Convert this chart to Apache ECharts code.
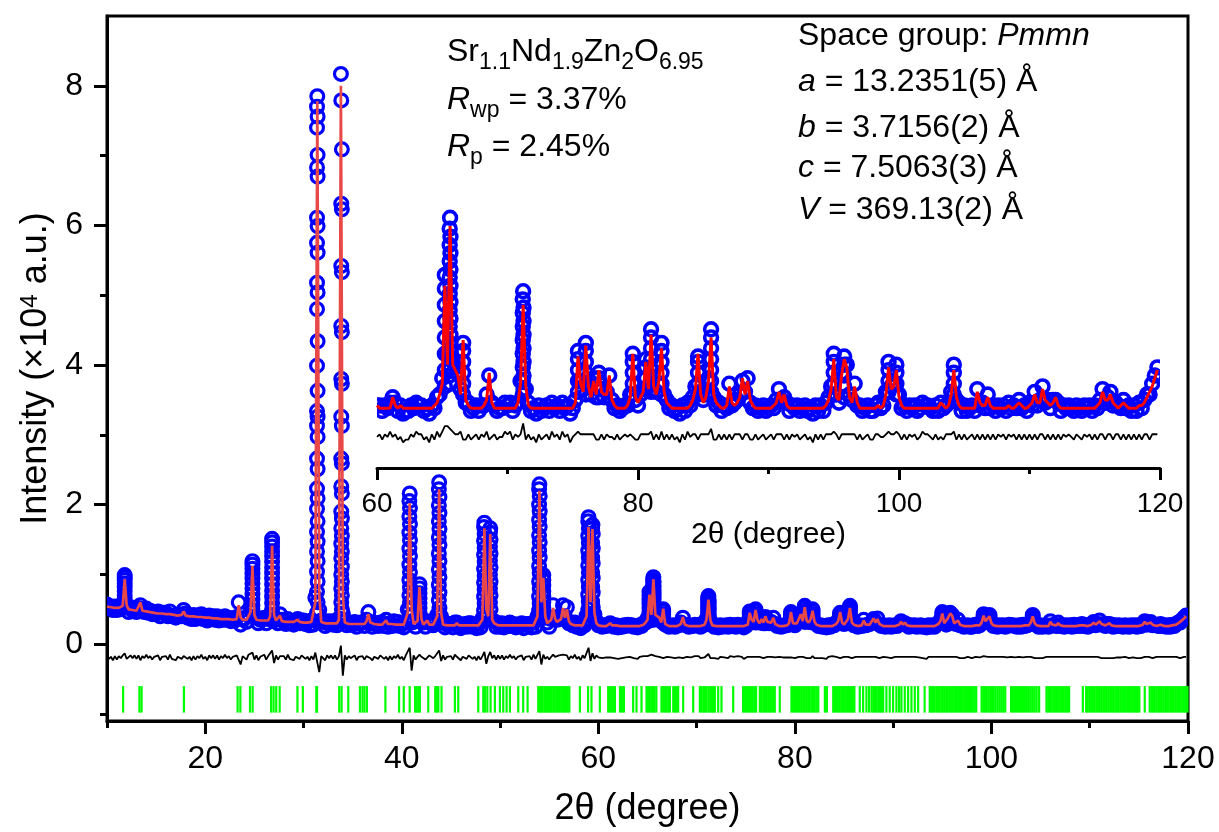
<!DOCTYPE html>
<html>
<head>
<meta charset="utf-8">
<script src="https://cdn.jsdelivr.net/npm/echarts@6/dist/echarts.min.js"></script>
<style>
  html, body { margin: 0; padding: 0; background: #ffffff; }
  #chart { width: 1219px; height: 832px; }
</style>
</head>
<body>
<div id="chart"></div>
<script>
// Rietveld refinement of Sr1.1Nd1.9Zn2O6.95 (space group Pmmn).
// Step scan: 2θ = 10.0° ... 119.8°, step 0.2°; intensities in hundreds of counts.
const scanStart = 10.0;
const scanStep = 0.2;

// Calculated profile, one row per degree (x.0, x.2, x.4, x.6, x.8)
const yCalc = [
  54,54,53,53,52,  52,52,51,55,93,   56,50,50,49,49,  48,49,60,48,47,  47,46,46,46,45,
  45,44,44,44,43,  43,43,43,42,42,   42,41,41,42,47,  41,40,40,40,40,  39,39,39,39,38,
  38,38,38,37,37,  37,37,37,36,36,   36,36,36,36,35,  35,36,56,38,35,  35,35,37,46,112,
  42,35,34,34,34,  34,33,34,40,141,  42,34,33,41,33,  33,32,32,32,32,  32,32,35,32,31,
  31,31,31,31,32,  31,60,778,70,32,  31,30,30,30,30,  30,30,30,35,800, 70,31,30,29,29,
  29,29,29,29,29,  29,29,33,43,31,   29,29,28,28,28,  28,28,34,29,28,  29,31,28,28,28,
  28,28,28,45,202, 50,29,28,33,82,   36,28,28,34,28,  27,28,28,40,222, 45,28,27,27,27,
  27,27,27,30,27,  27,27,27,27,27,   27,27,27,27,27,  27,35,166,50,40, 158,35,30,28,27,
  27,27,27,27,27,  27,27,27,27,27,   27,27,27,27,27,  27,27,27,27,40,  220,60,95,40,30,
  28,35,52,36,32,  33,36,52,38,50,   33,29,28,27,27,  27,27,27,28,40,  168,60,165,45,30,
  27,26,26,26,26,  26,30,27,26,27,   26,26,26,26,26,  26,26,26,26,26,  26,26,27,28,31,
  35,71,42,93,42,  40,38,31,51,29,   27,26,26,26,26,  26,27,29,39,28,  26,26,26,26,26,
  26,26,26,26,28,  35,64,34,27,26,   26,26,26,26,26,  26,26,26,26,26,  26,26,26,26,26,
  26,28,45,35,32,  49,34,30,36,31,   40,32,31,31,38,  29,27,26,26,26,  26,27,30,46,30,
  28,30,32,43,33,  53,34,31,36,48,   32,28,27,26,26,  26,26,26,26,26,  27,29,33,46,31,
  28,30,36,52,31,  28,27,26,26,27,   34,28,27,28,30,  37,31,36,29,27,  26,26,26,26,26,
  26,26,27,28,32,  28,31,27,26,26,   26,26,26,26,26,  26,26,26,26,26,  26,26,27,29,33,
  44,30,29,38,44,  41,30,28,34,28,   26,26,26,26,26,  26,26,27,26,27,  31,41,33,34,40,
  30,27,26,26,26,  26,26,26,26,26,   26,26,26,26,26,  26,28,27,26,27,  31,40,30,27,26,
  26,26,26,26,26,  32,28,27,27,30,   27,26,26,26,26,  26,26,27,26,26,  27,28,27,26,26,
  27,28,31,28,28,  33,29,28,27,28,   30,27,26,26,26,  26,26,26,26,26,  26,26,26,26,26,
  26,27,28,32,29,  29,31,28,27,26,   27,28,27,26,26,  26,26,27,27,28,  30,32,34,37,40
];

// Observed profile on the same steps
const yObs = [
  57,52,54,49,54,  49,54,50,58,99,   54,46,53,48,52,  46,52,56,50,46,  51,45,48,43,46,
  44,47,40,45,45,  45,40,47,40,41,   38,42,43,40,49,  44,38,41,36,42,  36,41,38,43,36,
  39,34,41,36,40,  35,40,34,38,35,   40,35,38,33,36,  34,39,60,28,37,  37,32,41,51,119,
  39,38,30,35,36,  38,30,36,42,151,  34,37,30,43,35,  35,29,36,30,31,  28,33,36,30,34,
  34,29,32,27,34,  28,67,785,49,34,  32,26,33,29,33,  28,33,27,37,817, 44,34,27,31,28,
  28,32,25,30,31,  31,26,35,46,30,   25,30,30,26,31,  31,26,35,25,30,  26,33,27,32,26,
  29,24,31,50,216, 31,32,25,34,86,   37,31,25,33,31,  31,27,30,42,232, 40,31,24,28,29,
  29,24,31,31,26,  23,28,29,25,30,   30,25,28,23,29,  24,37,174,41,42, 166,34,33,25,30,
  25,30,24,29,26,  31,26,29,24,28,   26,30,23,28,29,  29,24,31,25,40,  229,50,99,38,31,
  25,36,56,37,35,  36,38,56,40,53,   30,31,27,31,25,  28,23,30,27,41,  182,55,171,43,33,
  27,27,25,27,26,  28,30,28,25,27,   24,25,25,27,26,  28,27,27,25,26,  24,27,26,30,31,
  37,75,46,96,44,  41,39,33,50,28,   28,25,26,27,25,  27,27,31,38,28,  27,25,26,26,28,
  27,28,25,27,28,  36,69,33,28,25,   26,24,27,25,26,  27,25,28,26,27,  25,28,26,27,24,
  26,29,47,36,33,  50,35,31,37,30,   39,33,30,32,38,  29,26,27,25,26,  27,27,31,46,29,
  27,31,33,44,34,  55,33,32,35,50,   31,29,26,27,25,  26,24,27,25,28,  27,30,34,45,32,
  29,31,37,55,30,  27,28,25,27,26,   35,27,28,29,31,  36,32,37,28,26,  27,25,26,27,25,
  26,27,26,29,33,  29,30,28,25,27,   26,27,25,26,27,  25,26,24,27,25,  27,25,28,30,34,
  46,31,28,39,45,  42,31,29,35,27,   27,25,26,27,25,  25,27,28,26,27,  32,43,34,35,42,
  31,26,27,25,27,  26,27,25,26,28,   27,27,26,25,27,  25,28,26,27,28,  32,42,29,28,25,
  27,25,26,27,25,  33,27,28,26,31,   26,27,25,27,26,  27,25,28,26,27,  26,29,26,27,25,
  28,27,32,27,29,  34,28,29,26,29,   29,28,25,27,26,  27,26,25,27,26,  25,27,26,27,25,
  27,26,29,33,28,  30,32,27,28,27,   26,29,26,27,25,  27,25,28,26,29,  31,31,35,38,41
];

// Observed points on the steep flanks of the reflections: [2θ, intensities...]
const obsPeakColumns = [
  [11.8,  [96, 92, 87, 82, 76, 70, 64, 58]],
  [24.8,  [114, 108, 101, 94, 87, 80, 72, 64, 56, 48]],
  [26.8,  [146, 140, 133, 126, 118, 110, 102, 94, 86, 77, 68, 59, 50, 42]],
  [31.37, [770, 740, 683, 611, 575, 518, 480, 399, 334, 313, 266, 223, 194, 161, 133, 104, 75, 45]],
  [31.43, [756, 701, 670, 599, 561, 504, 434, 363, 326, 297, 251, 209, 176, 147, 119, 90, 60]],
  [33.84, [779, 631, 542, 456, 380, 326, 266, 226, 190, 166, 144, 123, 100, 80, 60]],
  [33.90, [709, 623, 533, 447, 373, 313, 259, 216, 180, 155, 133, 111, 90, 70, 50]],
  [40.77, [205, 183, 160, 137, 114, 92, 70, 50]],
  [40.83, [195, 172, 149, 126, 103, 81, 60, 40]],
  [41.8,  [80, 73, 66, 59, 52, 45, 38]],
  [43.77, [222, 199, 176, 153, 130, 107, 85, 63, 44]],
  [43.83, [211, 188, 165, 142, 119, 96, 74, 52]],
  [48.37, [168, 148, 128, 108, 88, 68, 48]],
  [48.43, [158, 138, 118, 98, 78, 58]],
  [48.97, [160, 140, 120, 100, 80, 60]],
  [49.03, [150, 130, 110, 90, 70, 50]],
  [53.97, [222, 200, 178, 156, 134, 112, 90, 68, 48]],
  [54.03, [212, 190, 168, 146, 124, 102, 80, 58]],
  [54.4,  [92, 84, 76, 68, 60, 52, 44]],
  [58.97, [176, 155, 134, 113, 92, 71, 50]],
  [59.03, [166, 145, 124, 103, 82, 61, 42]],
  [59.37, [166, 145, 124, 103, 82, 61, 42]],
  [59.43, [158, 137, 116, 95, 74, 53]],
  [65.2,  [70, 64, 58, 52, 46, 40, 34]],
  [65.57, [92, 86, 80, 74, 68, 62, 56, 50, 44, 38]],
  [65.63, [89, 83, 77, 71, 65, 59, 53, 47, 41, 35]],
  [66.6,  [47, 43, 39, 35, 31]],
  [71.17, [66, 61, 56, 51, 46, 41, 36, 31]],
  [71.23, [63, 58, 53, 48, 43, 38, 33]],
  [75.4,  [44, 40, 36, 32]],
  [76.0,  [47, 43, 39, 35, 31]],
  [77.0,  [37, 33, 30]],
  [79.6,  [43, 39, 35, 31]],
  [80.6,  [41, 37, 33]],
  [81.0,  [52, 48, 44, 40, 36, 32]],
  [81.8,  [47, 43, 39, 35, 31]],
  [84.6,  [43, 39, 35, 31]],
  [85.6,  [52, 48, 44, 40, 36, 32]],
  [95.0,  [43, 39, 35, 31]],
  [95.8,  [42, 38, 34, 30]],
  [99.2,  [40, 36, 32]],
  [99.8,  [39, 35, 31]],
  [104.2, [39, 35, 31]]
];

// Bragg reflection positions (2θ, degrees)
const braggPositions = [
  11.64, 13.30, 13.52, 17.83, 23.29, 23.57, 24.55, 24.82, 26.70, 26.95, 27.22, 27.57,
  29.38, 29.93, 31.30, 31.37, 33.63, 33.87, 34.55, 35.74, 36.00, 36.20, 36.45, 38.33,
  39.72, 40.20, 40.80, 41.35, 41.52, 41.70, 41.84, 42.69, 43.40, 43.58, 43.72, 44.04,
  45.40, 45.74, 47.78, 48.29, 48.45, 48.70, 49.03, 49.47, 49.98, 50.32, 50.66, 51.00,
  51.85, 52.35, 52.80, 53.88, 54.05, 54.20, 54.32, 54.50, 54.62, 54.78, 54.95, 55.10,
  55.25, 55.42, 55.55, 55.72, 55.90, 56.05, 56.22, 56.40, 56.55, 56.70, 56.88, 57.05,
  58.12, 58.95, 59.30, 60.15, 61.00, 61.17, 61.35, 61.52, 61.68, 62.20, 62.40, 62.60,
  63.54, 63.88, 64.39, 64.90, 65.05, 65.20, 65.38, 65.55, 65.70, 65.90, 66.42, 66.60,
  66.78, 66.95, 67.12, 67.28, 67.62, 67.80, 67.95, 68.12, 68.63, 69.65, 70.33, 70.50,
  70.68, 70.85, 71.00, 71.20, 71.38, 71.55, 71.70, 71.85, 72.19, 72.53, 73.72, 74.73,
  74.90, 75.05, 75.22, 75.40, 75.55, 75.72, 75.90, 76.05, 76.43, 76.60, 76.78, 76.95,
  77.10, 77.28, 77.45, 77.62, 77.80, 77.95, 78.46, 79.65, 79.82, 80.00, 80.15, 80.32,
  80.50, 80.68, 80.85, 81.00, 81.18, 81.35, 81.50, 81.68, 81.85, 82.02, 82.20, 82.38,
  83.05, 83.25, 83.90, 84.05, 84.22, 84.40, 84.55, 84.72, 84.90, 85.05, 85.22, 85.40,
  85.55, 85.72, 85.90, 86.05, 86.60, 86.94, 87.28, 87.55, 87.80, 87.98, 88.15, 88.32,
  88.50, 88.65, 88.82, 88.98, 89.31, 89.65, 89.99, 90.33, 90.60, 90.84, 91.18, 91.52,
  91.86, 92.20, 92.54, 93.20, 93.72, 93.88, 94.05, 94.22, 94.40, 94.55, 94.72, 94.90,
  95.05, 95.22, 95.40, 95.55, 95.72, 95.90, 96.05, 96.22, 96.40, 96.58, 96.75, 96.90,
  97.08, 97.25, 97.42, 97.60, 97.75, 97.92, 98.10, 98.28, 98.45, 99.00, 99.18, 99.35,
  99.52, 99.70, 99.88, 100.05, 100.22, 100.40, 100.60, 100.80, 101.00, 101.20, 101.40,
  102.00, 102.20, 102.40, 102.60, 102.80, 103.00, 103.20, 103.40, 103.60, 103.80, 104.00,
  104.20, 104.40, 104.60, 104.85, 105.60, 105.78, 105.95, 106.12, 106.30, 106.48, 106.65,
  106.82, 107.00, 107.18, 107.35, 107.52, 107.70, 107.90, 109.30, 109.64, 109.80, 109.98,
  110.15, 110.32, 110.50, 110.68, 110.85, 111.02, 111.20, 111.38, 111.55, 111.72, 111.90,
  112.08, 112.25, 112.42, 112.60, 112.78, 112.95, 113.12, 113.30, 113.48, 113.65, 113.82,
  114.00, 114.18, 114.35, 114.52, 114.70, 114.88, 115.05, 115.60, 116.10, 116.28, 116.45,
  116.62, 116.80, 116.98, 117.15, 117.32, 117.50, 117.68, 117.85, 118.02, 118.20, 118.38,
  118.55, 118.72, 118.90, 119.08, 119.25, 119.42, 119.60, 119.78, 119.95
];

// Axis ticks
const mainXMajor = [20, 40, 60, 80, 100, 120];
const mainXMinor = [10, 30, 50, 70, 90, 110];
const mainYMajor = [0, 2, 4, 6, 8];
const mainYMinor = [-1, 1, 3, 5, 7];
const insetXMajor = [60, 80, 100, 120];
const insetXMinor = [70, 90, 110];

// ---- build series data (intensity shown in units of 10^4 counts) ----
const PER_1E4 = 100;
const INSET_FROM = 60;
const DIFF_OFFSET_MAIN = -0.19;
const DIFF_OFFSET_INSET = 0.154;
const BRAGG_TOP = -0.6;
const BRAGG_BOTTOM = -0.98;

const twoTheta = yObs.map((_, i) => Math.round((scanStart + i * scanStep) * 10) / 10);
const obsPts = twoTheta.map((x, i) => [x, yObs[i] / PER_1E4]);
obsPeakColumns.forEach(([x, ys]) => ys.forEach(y => obsPts.push([x, y / PER_1E4])));
const calcPts = twoTheta.map((x, i) => [x, yCalc[i] / PER_1E4]);
const residual = twoTheta.map((x, i) => [x, (yObs[i] - yCalc[i]) / PER_1E4]);

const diffMain = residual.map(([x, d]) => [x, d + DIFF_OFFSET_MAIN]);
const obsInset = obsPts.filter(p => p[0] >= INSET_FROM);
const calcInset = calcPts.filter(p => p[0] >= INSET_FROM);
const diffInset = residual.filter(p => p[0] >= INSET_FROM).map(([x, d]) => [x, d + DIFF_OFFSET_INSET]);

const FONT = '"Liberation Sans", Arial, Helvetica, sans-serif';
const BLUE = '#0000ff';

// open circles for the observed points
function obsSeries(xi, yi, data, stroke) {
  return {
    type: 'custom', xAxisIndex: xi, yAxisIndex: yi, data, silent: true, z: 2, clip: true,
    renderItem: (params, api) => {
      const c = api.coord([api.value(0), api.value(1)]);
      return {
        type: 'circle',
        shape: { cx: c[0], cy: c[1], r: 6.4 },
        style: { fill: 'none', stroke: BLUE, lineWidth: stroke }
      };
    }
  };
}
function lineSeries(xi, yi, data, color, width, z) {
  return {
    type: 'line', xAxisIndex: xi, yAxisIndex: yi, data,
    symbol: 'none', showSymbol: false, silent: true, z,
    lineStyle: { color, width }
  };
}

const braggSeries = {
  type: 'custom', xAxisIndex: 0, yAxisIndex: 0, silent: true, z: 4,
  data: braggPositions.map(x => [x, BRAGG_TOP]),
  renderItem: (params, api) => {
    const x = api.value(0);
    const p1 = api.coord([x, BRAGG_TOP]);
    const p2 = api.coord([x, BRAGG_BOTTOM]);
    return {
      type: 'line',
      shape: { x1: p1[0], y1: p1[1], x2: p2[0], y2: p2[1] },
      style: { stroke: '#00ff00', lineWidth: 2.2 }
    };
  }
};

function axisBase(grid, min, max, position) {
  return {
    type: 'value', gridIndex: grid, min, max, position,
    splitLine: { show: false },
    axisLine: { show: true, onZero: false, lineStyle: { color: '#000', width: 3 } },
    axisTick: { show: true, inside: false, lineStyle: { color: '#000', width: 3 } },
    axisLabel: { show: true, color: '#000', fontFamily: FONT }
  };
}

// main x axis (labels, long ticks) + companion axis for short ticks
const xMain = axisBase(0, 10, 120, 'bottom');
xMain.axisTick.customValues = mainXMajor; xMain.axisTick.length = 13;
xMain.axisLabel.customValues = mainXMajor; xMain.axisLabel.fontSize = 32; xMain.axisLabel.margin = 22;
xMain.name = '2θ (degree)'; xMain.nameLocation = 'middle'; xMain.nameGap = 70;
xMain.nameTextStyle = { fontSize: 36, fontFamily: FONT, color: '#000' };

const xMainMinor = axisBase(0, 10, 120, 'bottom');
xMainMinor.axisLine.show = false; xMainMinor.axisLabel.show = false;
xMainMinor.axisTick.customValues = mainXMinor; xMainMinor.axisTick.length = 7;

const yMain = axisBase(0, -1.1, 9, 'left');
yMain.axisTick.customValues = mainYMajor; yMain.axisTick.length = 13;
yMain.axisLabel.customValues = mainYMajor; yMain.axisLabel.fontSize = 32; yMain.axisLabel.margin = 24;
yMain.name = 'Intensity (×10{sup|4} a.u.)'; yMain.nameLocation = 'middle'; yMain.nameGap = 52;
yMain.nameTextStyle = {
  fontSize: 36, fontFamily: FONT, color: '#000',
  rich: { sup: { fontSize: 24, fontFamily: FONT, color: '#000', padding: [0, 0, 12, 0], verticalAlign: 'middle' } }
};

const yMainMinor = axisBase(0, -1.1, 9, 'left');
yMainMinor.axisLine.show = false; yMainMinor.axisLabel.show = false;
yMainMinor.axisTick.customValues = mainYMinor; yMainMinor.axisTick.length = 7;

// inset axes
const xInset = axisBase(1, 60, 120, 'bottom');
xInset.axisTick.customValues = insetXMajor; xInset.axisTick.length = 12;
xInset.axisLabel.customValues = insetXMajor; xInset.axisLabel.fontSize = 28; xInset.axisLabel.margin = 22;
xInset.name = '2θ (degree)'; xInset.nameLocation = 'middle'; xInset.nameGap = 52;
xInset.nameTextStyle = { fontSize: 30, fontFamily: FONT, color: '#000' };

const xInsetMinor = axisBase(1, 60, 120, 'bottom');
xInsetMinor.axisLine.show = false; xInsetMinor.axisLabel.show = false;
xInsetMinor.axisTick.customValues = insetXMinor; xInsetMinor.axisTick.length = 6;

const yInset = { type: 'value', gridIndex: 1, min: 0.04, max: 1.54, show: false, splitLine: { show: false } };

// annotation text
const TXT = 32;
const rich = {
  s: { fontSize: 23, fontFamily: FONT, fill: '#000', padding: [22, 0, 0, 0], verticalAlign: 'middle' },
  i: { fontSize: TXT, fontFamily: FONT, fontStyle: 'italic', fill: '#000', verticalAlign: 'middle' }
};
function label(x, y, text) {
  return {
    type: 'text', x, y, silent: true, z: 10,
    style: { text, fontSize: TXT, fontFamily: FONT, fill: '#000', align: 'left', verticalAlign: 'middle', rich }
  };
}

const chart = echarts.init(document.getElementById('chart'), null, { renderer: 'canvas' });
chart.setOption({
  animation: false,
  backgroundColor: '#ffffff',
  grid: [
    { left: 107, right: 31, top: 16, bottom: 109, show: true, borderColor: '#000', borderWidth: 3, backgroundColor: 'rgba(0,0,0,0)', containLabel: false },
    { left: 377, right: 59, top: 60, bottom: 364, show: false, containLabel: false }
  ],
  xAxis: [xMain, xMainMinor, xInset, xInsetMinor],
  yAxis: [yMain, yMainMinor, yInset],
  series: [
    obsSeries(0, 0, obsPts, 3.2),
    lineSeries(0, 0, calcPts, '#e84848', 2.7, 3),
    lineSeries(0, 0, diffMain, '#000000', 1.8, 3),
    braggSeries,
    obsSeries(2, 2, obsInset, 3.6),
    lineSeries(2, 2, calcInset, '#ff0000', 3, 3),
    lineSeries(2, 2, diffInset, '#000000', 1.8, 3)
  ],
  graphic: [
    label(447, 52, 'Sr{s|1.1}Nd{s|1.9}Zn{s|2}O{s|6.95}'),
    label(447, 100, '{i|R}{s|wp} = 3.37%'),
    label(447, 147, '{i|R}{s|p} = 2.45%'),
    label(798, 36, 'Space group: {i|Pmmn}'),
    label(798, 82, '{i|a} = 13.2351(5) Å'),
    label(798, 128, '{i|b} = 3.7156(2) Å'),
    label(798, 168, '{i|c} = 7.5063(3) Å'),
    label(798, 210, '{i|V} = 369.13(2) Å')
  ]
});
</script>
</body>
</html>
